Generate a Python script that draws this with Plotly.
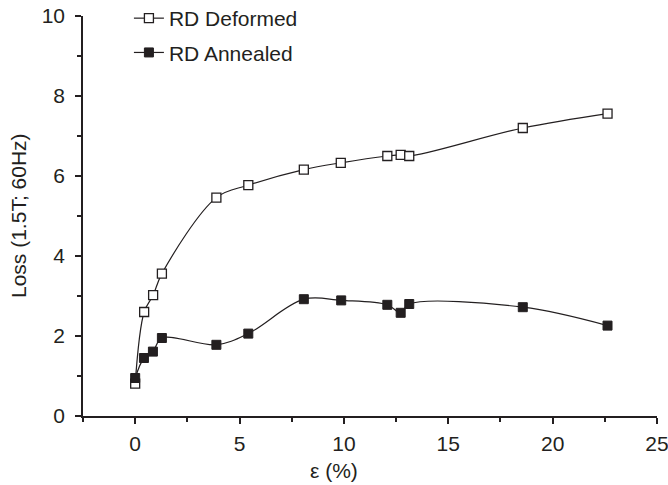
import plotly.graph_objects as go

strain_def = [0.0, 0.43, 0.86, 1.28, 3.89, 5.42, 8.08, 9.85, 12.08, 12.72, 13.13, 18.57, 22.63]
loss_def = [0.81, 2.6, 3.02, 3.56, 5.46, 5.77, 6.16, 6.33, 6.5, 6.53, 6.5, 7.2, 7.56]

strain_ann = [0.0, 0.42, 0.85, 1.28, 3.89, 5.42, 8.08, 9.87, 12.08, 12.72, 13.13, 18.57, 22.63]
loss_ann = [0.95, 1.45, 1.61, 1.95, 1.78, 2.06, 2.92, 2.89, 2.78, 2.58, 2.8, 2.72, 2.26]

FONT = "Liberation Sans, Arial, Helvetica, sans-serif"
INK = "#231f20"
FS = 21

fig = go.Figure()
fig.add_trace(go.Scatter(
    x=strain_def, y=loss_def, name="RD Deformed", mode="lines+markers",
    line=dict(color=INK, width=1.2, shape="spline", smoothing=1.0),
    marker=dict(symbol="square", size=9, color="white", line=dict(color=INK, width=1.3)),
    legendgroup="a",
))
fig.add_trace(go.Scatter(
    x=strain_ann, y=loss_ann, name="RD Annealed", mode="lines+markers",
    line=dict(color=INK, width=1.2, shape="spline", smoothing=1.0),
    marker=dict(symbol="square", size=9, color=INK, line=dict(color=INK, width=1)),
    legendgroup="b",
))

axis_common = dict(
    showline=True, linecolor=INK, linewidth=1.5, ticks="outside", tickcolor=INK,
    tickwidth=1.5, ticklen=6, showgrid=False, zeroline=False, automargin=False,
    ticklabeloverflow="allow",
    tickfont=dict(family=FONT, size=FS, color=INK),
)
fig.update_xaxes(range=[-2.5, 25], tickvals=[0, 5, 10, 15, 20, 25],
                 minor=dict(tickvals=[-2.5, 2.5, 7.5, 12.5, 17.5, 22.5], ticklen=4,
                            tickcolor=INK, tickwidth=1.5, ticks="outside"),
                 ticklabelstandoff=2,
                 **axis_common)
fig.update_yaxes(range=[0, 10], tickvals=[0, 2, 4, 6, 8, 10],
                 minor=dict(tickvals=[1, 3, 5, 7, 9], ticklen=4,
                            tickcolor=INK, tickwidth=1.5, ticks="outside"),
                 ticklabelstandoff=6,
                 **axis_common)

fig.add_annotation(text="ε (%)", x=(334 - 83) / 574, xref="paper", y=-0.135, yref="paper",
                   xanchor="center", yanchor="middle",
                   showarrow=False, font=dict(family=FONT, size=FS, color=INK))
fig.add_annotation(text="Loss (1.5T; 60Hz)", x=(18 - 83) / 574, xref="paper", y=0.5, yref="paper",
                   xanchor="center", yanchor="middle", textangle=-90,
                   showarrow=False, font=dict(family=FONT, size=FS, color=INK))

fig.update_layout(
    width=668, height=485,
    margin=dict(l=83, r=11, t=16, b=69, autoexpand=False),
    paper_bgcolor="white", plot_bgcolor="white",
    showlegend=True,
    legend=dict(x=0.08, y=1.045, xanchor="left", yanchor="top",
                font=dict(family=FONT, size=FS, color=INK),
                bgcolor="rgba(0,0,0,0)", tracegroupgap=4),
)

# remove the default 8px page margin so the figure fills the 668x485 window
fig.write_html("out.html", config={"displayModeBar": False},
               post_script="document.body.style.margin='0px';")
